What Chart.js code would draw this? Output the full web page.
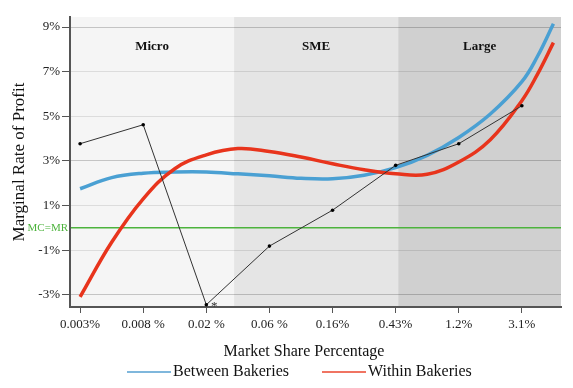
<!DOCTYPE html>
<html>
<head>
<meta charset="utf-8">
<script src="https://cdn.jsdelivr.net/npm/chart.js@4.4.1/dist/chart.umd.min.js"></script>
<style>
  html, body { margin: 0; padding: 0; background: #fff; }
</style>
</head>
<body>
<canvas id="chart" width="573" height="388"></canvas>
<script>
// market share categories along the x axis
const xTickLabels = ['0.003%', '0.008 %', '0.02 %', '0.06 %', '0.16%', '0.43%', '1.2%', '3.1%'];
const sharePoints = [0, 1, 2, 3, 4, 5, 6, 7];
const observedProfit = [3.77, 4.62, -3.45, -0.82, 0.79, 2.8, 3.77, 5.47];
const flaggedIndex = 2;

// fitted curves at roughly half steps
const curveSteps = [0, 0.5, 1, 1.5, 2, 2.5, 3, 3.5, 4, 4.5, 5, 5.5, 6, 6.5, 7, 7.25, 7.5];
const betweenBakeries = [1.75, 2.25, 2.45, 2.5, 2.5, 2.42, 2.33, 2.22, 2.2, 2.36, 2.7, 3.25, 4.05, 5.1, 6.55, 7.7, 9.15];
const withinBakeries = [-3.1, -0.65, 1.3, 2.65, 3.27, 3.55, 3.42, 3.17, 2.87, 2.6, 2.42, 2.4, 2.95, 3.95, 5.7, 6.9, 8.3];

const yTickValues = [-3, -1, 0, 1, 3, 5, 7, 9];
const regionNames = ['Micro', 'SME', 'Large'];
const regionBreaks = [2.44, 5.04];

const serif = '"Liberation Serif", "Times New Roman", serif';
const regionFills = ['#f5f5f5', '#e5e5e5', '#d0d0d0'];
const blue = '#4aa0d3';
const red = '#e8341c';
const green = '#4db33d';

const toPoints = (xs, ys) => xs.map((x, i) => ({ x: x, y: ys[i] }));
const tickVal = c => (c && c.tick) ? c.tick.value : null;

const backdrop = {
    id: 'backdrop',
    beforeDraw(chart) {
        const { ctx, chartArea: a, scales: { x } } = chart;
        const edges = [x.min, ...regionBreaks, x.max].map(v => x.getPixelForValue(v));
        ctx.save();
        regionNames.forEach((name, i) => {
            ctx.fillStyle = regionFills[i];
            ctx.fillRect(edges[i], a.top, edges[i + 1] - edges[i], a.bottom - a.top);
            ctx.fillStyle = '#111';
            ctx.font = 'bold 13px ' + serif;
            ctx.textAlign = 'center';
            ctx.textBaseline = 'middle';
            ctx.fillText(name, (edges[i] + edges[i + 1]) / 2, a.top + 30);
        });
        ctx.restore();
    },
    afterDraw(chart) {
        const { ctx, chartArea: a, scales: { y } } = chart;
        ctx.save();

        // MC=MR label on the zero line
        ctx.fillStyle = green;
        ctx.font = '11px ' + serif;
        ctx.textAlign = 'right';
        ctx.textBaseline = 'middle';
        ctx.fillText('MC=MR', a.left - 2, y.getPixelForValue(0));

        // asterisk next to the low point
        const pt = chart.getDatasetMeta(0).data[flaggedIndex];
        ctx.fillStyle = '#333';
        ctx.font = '13px ' + serif;
        ctx.textAlign = 'center';
        ctx.fillText('*', pt.x + 8, pt.y + 2);

        // x axis title
        ctx.fillStyle = '#111';
        ctx.font = '16px ' + serif;
        ctx.fillText('Market Share Percentage', 304, 352);

        // legend
        const items = [
            { text: 'Between Bakeries', color: '#7fb7dc', x: 127 },
            { text: 'Within Bakeries', color: '#f07462', x: 322 }
        ];
        ctx.textAlign = 'left';
        items.forEach(it => {
            ctx.strokeStyle = it.color;
            ctx.lineWidth = 2;
            ctx.beginPath();
            ctx.moveTo(it.x, 372);
            ctx.lineTo(it.x + 44, 372);
            ctx.stroke();
            ctx.fillText(it.text, it.x + 46, 372);
        });
        ctx.restore();
    }
};

new Chart(document.getElementById('chart'), {
    type: 'line',
    data: {
        datasets: [
            {
                label: 'Observed',
                data: toPoints(sharePoints, observedProfit),
                borderColor: '#333',
                borderWidth: 1,
                pointRadius: 1.8,
                pointBackgroundColor: '#000',
                pointBorderWidth: 0,
                tension: 0
            },
            {
                label: 'Within Bakeries',
                data: toPoints(curveSteps, withinBakeries),
                borderColor: red,
                borderWidth: 3.5,
                pointRadius: 0,
                tension: 0.4
            },
            {
                label: 'Between Bakeries',
                data: toPoints(curveSteps, betweenBakeries),
                borderColor: blue,
                borderWidth: 3.5,
                pointRadius: 0,
                tension: 0.4
            }
        ]
    },
    options: {
        responsive: false,
        animation: false,
        layout: { padding: { top: 17, right: 12, left: 0, bottom: 0 } },
        plugins: {
            legend: { display: false },
            tooltip: { enabled: false }
        },
        scales: {
            x: {
                type: 'linear',
                min: -0.16,
                max: 7.62,
                afterBuildTicks: s => { s.ticks = sharePoints.map(v => ({ value: v })); },
                afterFit: s => { s.height = 81; },
                grid: {
                    drawOnChartArea: false,
                    drawTicks: true,
                    tickLength: 6,
                    tickColor: '#555'
                },
                border: { color: '#555', width: 2 },
                ticks: {
                    autoSkip: false,
                    maxRotation: 0,
                    padding: 4,
                    color: '#222',
                    font: { family: serif, size: 13 },
                    callback: v => xTickLabels[v]
                }
            },
            y: {
                min: -3.55,
                max: 9.45,
                afterBuildTicks: s => { s.ticks = yTickValues.map(v => ({ value: v })); },
                afterFit: s => { s.width = 70; },
                grid: {
                    drawTicks: true,
                    tickLength: 8,
                    color: c => tickVal(c) === 0 ? green
                        : ([9, 3, -3].includes(tickVal(c)) ? 'rgba(0,0,0,0.2)' : 'rgba(0,0,0,0.1)'),
                    lineWidth: c => tickVal(c) === 0 ? 1.5 : 1,
                    tickColor: c => tickVal(c) === 0 ? 'rgba(0,0,0,0)' : '#555'
                },
                border: { color: '#555', width: 2 },
                ticks: {
                    padding: 2,
                    color: '#222',
                    font: { family: serif, size: 13 },
                    callback: v => v === 0 ? '' : v + '%'
                },
                title: {
                    display: true,
                    text: 'Marginal Rate of Profit',
                    color: '#111',
                    font: { family: serif, size: 17 },
                    padding: { top: 9, bottom: 0 }
                }
            }
        }
    },
    plugins: [backdrop]
});
</script>
</body>
</html>
